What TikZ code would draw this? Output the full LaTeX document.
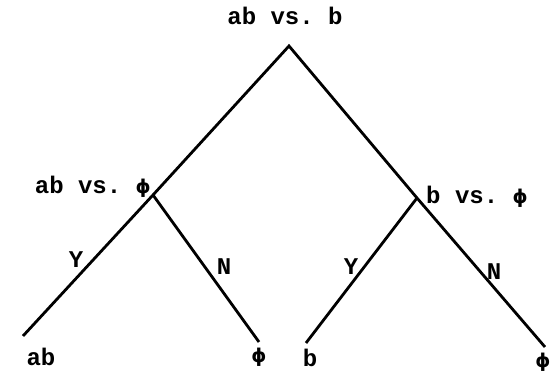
\documentclass[tikz,border=0pt]{standalone}
\usepackage{fontspec}
\setmonofont{Liberation Mono}
\newfontfamily\phifont{DejaVu Sans}
\newcommand{\myphi}{{\phifont\bfseries ϕ}}
\begin{document}
\begin{tikzpicture}[x=1pt,y=1pt,
  branch/.style={line width=2.8pt},
  lbl/.style={font=\ttfamily\bfseries\fontsize{24}{28}\selectfont, inner sep=1pt},
  phi/.style={font=\fontsize{19}{22}\selectfont, inner sep=1pt}]
\useasboundingbox (0,0) rectangle (550,374);
% junction coordinates
\coordinate (root) at (289,328);
\coordinate (L) at (153,179);
\coordinate (R) at (417,176);
\coordinate (LL) at (23,38);
\coordinate (LR) at (259,32);
\coordinate (RL) at (306,31);
\coordinate (RR) at (545,27);
\draw[branch] (LL) -- (L) -- (root) -- (R) -- (RR);
\draw[branch] (L) -- (LR);
\draw[branch] (R) -- (RL);
% labels
\node[lbl] (top) at (285,358) {ab vs. b};
\node[lbl,anchor=east] (ltxt) at (152,187) {ab vs. {\fontsize{19}{22}\selectfont\myphi}};
\node[lbl,anchor=west] (rtxt) at (425,177) {b vs. {\fontsize{19}{22}\selectfont\myphi}};
\node[lbl] (yl) at (76,114) {Y};
\node[lbl] (nl) at (224,107) {N};
\node[lbl] (yr) at (351,107) {Y};
\node[lbl] (nr) at (494,102) {N};
\node[lbl] (leafab) at (41,17) {ab};
\node[phi] (leafphi1) at (259,17) {\myphi};
\node[lbl] (leafb) at (310,16) {b};
\node[phi] (leafphi2) at (543,12) {\myphi};
\end{tikzpicture}
\end{document}
